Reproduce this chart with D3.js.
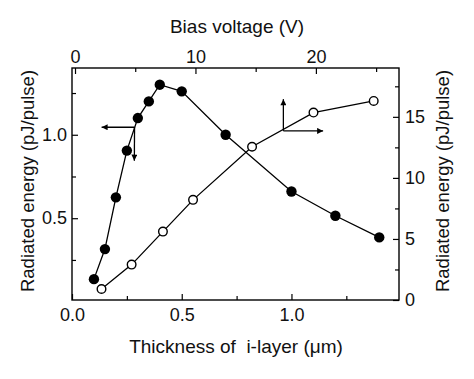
<!DOCTYPE html>
<html>
<head>
<meta charset="utf-8">
<script src="https://d3js.org/d3.v7.min.js"></script>
<style>
  body { margin: 0; background: #fff; }
  text { font-family: "Liberation Sans", Arial, sans-serif; fill: #111; }
</style>
</head>
<body>
<div id="chart"></div>
<script>
// filled dots: thickness (um) vs radiated energy (left axis)
var thickness = [0.10, 0.15, 0.20, 0.25, 0.30, 0.35, 0.40, 0.50, 0.70, 1.00, 1.20, 1.40];
var energyT   = [0.135, 0.315, 0.625, 0.905, 1.10, 1.20, 1.30, 1.26, 1.00, 0.66, 0.515, 0.385];

// open dots: bias voltage (V) vs radiated energy (right axis)
var bias    = [2.2, 4.7, 7.3, 9.8, 14.7, 19.8, 24.8];
var energyV = [0.9, 2.9, 5.6, 8.2, 12.55, 15.35, 16.3];

var bottomTicks = [0.0, 0.5, 1.0];
var topTicks = [0, 10, 20];
var leftTicks = [0.5, 1.0];
var rightTicks = [0, 5, 10, 15];

var W = 474, H = 379;
var margin = {t:68, l:72, b:79, r:75};

var svg = d3.select("#chart").append("svg")
    .attr("width", W).attr("height", H);

var x = d3.scaleLinear().domain([0, 1.49]).range([margin.l, W - margin.r]);
var xTop = d3.scaleLinear().domain([-0.25, 26.9]).range([margin.l, W - margin.r]);
var yL = d3.scaleLinear().domain([0.01, 1.40]).range([H - margin.b, margin.t]);
var yR = d3.scaleLinear().domain([0, 19]).range([H - margin.b, margin.t]);

var bottom = H - margin.b, right = W - margin.r;

// arrow head
svg.append("defs").append("marker")
    .attr("id", "head")
    .attr("viewBox", "0 0 10 10")
    .attr("refX", 10).attr("refY", 5)
    .attr("markerWidth", 9).attr("markerHeight", 6)
    .attr("markerUnits", "userSpaceOnUse")
    .attr("orient", "auto")
    .append("path").attr("d", "M0,0L10,5L0,10z").attr("fill", "#000");

function styleAxis(g) {
    g.select(".domain").remove();
    g.selectAll("line").attr("stroke", "#000").attr("stroke-width", 1.2);
    g.selectAll("text").style("font-size", "18px").attr("fill", "#111");
}

// major axes, ticks pointing inward
svg.append("g").attr("transform", "translate(0," + bottom + ")")
    .call(d3.axisBottom(x).tickValues(bottomTicks).tickFormat(d3.format(".1f")).tickSize(-6).tickPadding(8))
    .call(styleAxis);
svg.append("g").attr("transform", "translate(0," + margin.t + ")")
    .call(d3.axisTop(xTop).tickValues(topTicks).tickFormat(d3.format("d")).tickSize(-6).tickPadding(5))
    .call(styleAxis);
svg.append("g").attr("transform", "translate(" + margin.l + ",0)")
    .call(d3.axisLeft(yL).tickValues(leftTicks).tickFormat(d3.format(".1f")).tickSize(-6).tickPadding(5))
    .call(styleAxis);
svg.append("g").attr("transform", "translate(" + right + ",0)")
    .call(d3.axisRight(yR).tickValues(rightTicks).tickFormat(d3.format("d")).tickSize(-6).tickPadding(6))
    .call(styleAxis);

// minor ticks
svg.append("g").attr("transform", "translate(0," + bottom + ")")
    .call(d3.axisBottom(x).tickValues([0.25, 0.75, 1.25]).tickFormat("").tickSize(-4)).call(styleAxis);
svg.append("g").attr("transform", "translate(0," + margin.t + ")")
    .call(d3.axisTop(xTop).tickValues([5, 15, 25]).tickFormat("").tickSize(-4)).call(styleAxis);
svg.append("g").attr("transform", "translate(" + margin.l + ",0)")
    .call(d3.axisLeft(yL).tickValues([0.25, 0.75, 1.25]).tickFormat("").tickSize(-4)).call(styleAxis);
svg.append("g").attr("transform", "translate(" + right + ",0)")
    .call(d3.axisRight(yR).tickValues([2.5, 7.5, 12.5, 17.5]).tickFormat("").tickSize(-4)).call(styleAxis);

// frame
svg.append("rect")
    .attr("x", margin.l).attr("y", margin.t)
    .attr("width", right - margin.l).attr("height", bottom - margin.t)
    .attr("fill", "none").attr("stroke", "#000").attr("stroke-width", 1.4);

// series data
var filled = thickness.map(function(d, i) { return {x: d, y: energyT[i]}; });
var open = bias.map(function(d, i) { return {x: d, y: energyV[i]}; });

var lineT = d3.line().x(function(d) { return x(d.x); }).y(function(d) { return yL(d.y); });
var lineV = d3.line().x(function(d) { return xTop(d.x); }).y(function(d) { return yR(d.y); });

svg.append("path").attr("d", lineT(filled))
    .attr("fill", "none").attr("stroke", "#000").attr("stroke-width", 1.3);
svg.append("path").attr("d", lineV(open))
    .attr("fill", "none").attr("stroke", "#000").attr("stroke-width", 1.3);

svg.selectAll(".dotT").data(filled).enter().append("circle")
    .attr("class", "dotT")
    .attr("cx", function(d) { return x(d.x); })
    .attr("cy", function(d) { return yL(d.y); })
    .attr("r", 5.2).attr("fill", "#000");

svg.selectAll(".dotV").data(open).enter().append("circle")
    .attr("class", "dotV")
    .attr("cx", function(d) { return xTop(d.x); })
    .attr("cy", function(d) { return yR(d.y); })
    .attr("r", 4.3).attr("fill", "#fff")
    .attr("stroke", "#000").attr("stroke-width", 1.4);

// arrows telling which axes each series belongs to
var arrowsT = [
    {x1: 0.285, y1: 1.045, x2: 0.135, y2: 1.045},
    {x1: 0.285, y1: 1.045, x2: 0.284, y2: 0.845}
];
var arrowsV = [
    {x1: 17.3, y1: 13.85, x2: 17.3, y2: 16.45},
    {x1: 17.3, y1: 13.85, x2: 20.6, y2: 13.85}
];
svg.selectAll(".arT").data(arrowsT).enter().append("line")
    .attr("x1", function(d) { return x(d.x1); }).attr("y1", function(d) { return yL(d.y1); })
    .attr("x2", function(d) { return x(d.x2); }).attr("y2", function(d) { return yL(d.y2); })
    .attr("stroke", "#000").attr("stroke-width", 1.3).attr("marker-end", "url(#head)");
svg.selectAll(".arV").data(arrowsV).enter().append("line")
    .attr("x1", function(d) { return xTop(d.x1); }).attr("y1", function(d) { return yR(d.y1); })
    .attr("x2", function(d) { return xTop(d.x2); }).attr("y2", function(d) { return yR(d.y2); })
    .attr("stroke", "#000").attr("stroke-width", 1.3).attr("marker-end", "url(#head)");

// axis titles
svg.append("text").attr("x", 236).attr("y", 353)
    .attr("text-anchor", "middle").style("font-size", "19px").style("white-space", "pre")
    .text("Thickness of  i-layer (\u03bcm)");
svg.append("text").attr("x", 237).attr("y", 33)
    .attr("text-anchor", "middle").style("font-size", "19px")
    .text("Bias voltage (V)");
svg.append("text")
    .attr("transform", "translate(34,181) rotate(-90)")
    .attr("text-anchor", "middle").style("font-size", "18.5px")
    .text("Radiated energy (pJ/pulse)");
svg.append("text")
    .attr("transform", "translate(449,181) rotate(-90)")
    .attr("text-anchor", "middle").style("font-size", "18.5px")
    .text("Radiated energy (pJ/pulse)");
</script>
</body>
</html>
